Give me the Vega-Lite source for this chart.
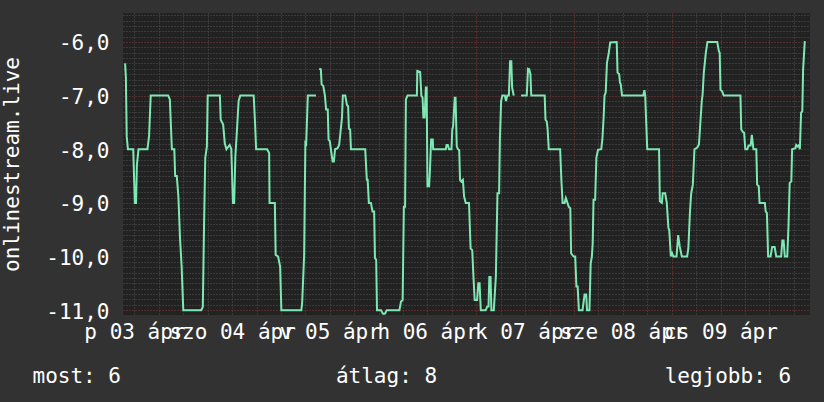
{
  "$schema": "https://vega.github.io/schema/vega-lite/v6.json",
  "width": 687,
  "height": 302,
  "autosize": "none",
  "padding": {"left": 123, "top": 13, "right": 14, "bottom": 87},
  "background": "#323232",
  "config": {
    "font": "DejaVu Sans Mono",
    "view": {"fill": "#222222", "stroke": null}
  },
  "data": {
    "values": [
      {"h": 9.7, "v": -6.4}, {"h": 9.9, "v": -6.67}, {"h": 10.1, "v": -7.76}, {"h": 10.4, "v": -8.0}, {"h": 11.7, "v": -8.0},
      {"h": 12.1, "v": -9.0}, {"h": 12.4, "v": -9.0}, {"h": 12.6, "v": -8.3}, {"h": 13.0, "v": -8.0}, {"h": 15.2, "v": -8.0},
      {"h": 15.6, "v": -7.75}, {"h": 16.0, "v": -7.0}, {"h": 20.3, "v": -7.0}, {"h": 20.7, "v": -7.07}, {"h": 21.2, "v": -8.0},
      {"h": 21.8, "v": -8.0}, {"h": 22.0, "v": -8.5}, {"h": 22.4, "v": -8.5}, {"h": 22.8, "v": -8.88}, {"h": 23.2, "v": -9.66},
      {"h": 23.6, "v": -10.19}, {"h": 24.0, "v": -11.0}, {"h": 28.4, "v": -11.0}, {"h": 28.8, "v": -10.94}, {"h": 29.1, "v": -9.44},
      {"h": 29.4, "v": -8.16}, {"h": 29.8, "v": -7.95}, {"h": 30.0, "v": -7.0}, {"h": 33.0, "v": -7.0}, {"h": 33.2, "v": -7.45},
      {"h": 33.8, "v": -7.54}, {"h": 34.2, "v": -7.89}, {"h": 34.6, "v": -8.0}, {"h": 35.4, "v": -7.92}, {"h": 35.8, "v": -8.0},
      {"h": 36.2, "v": -9.0}, {"h": 36.5, "v": -9.0}, {"h": 36.8, "v": -8.13}, {"h": 37.2, "v": -7.63}, {"h": 37.6, "v": -7.1},
      {"h": 38.0, "v": -7.0}, {"h": 41.3, "v": -7.0}, {"h": 41.6, "v": -7.45}, {"h": 41.9, "v": -8.0}, {"h": 44.6, "v": -8.0},
      {"h": 45.1, "v": -8.07}, {"h": 45.2, "v": -9.0}, {"h": 46.5, "v": -9.0}, {"h": 46.7, "v": -9.97}, {"h": 47.3, "v": -10.0},
      {"h": 47.8, "v": -10.19}, {"h": 48.1, "v": -11.0}, {"h": 53.0, "v": -11.0}, {"h": 53.2, "v": -10.88}, {"h": 53.7, "v": -9.97},
      {"h": 54.0, "v": -7.88}, {"h": 54.2, "v": -7.9}, {"h": 54.6, "v": -7.0}, {"h": 56.6, "v": -7.0}, {"h": 57.0, "v": null},
      {"h": 57.4, "v": -6.5}, {"h": 57.8, "v": -6.51}, {"h": 58.0, "v": -6.79}, {"h": 58.4, "v": -6.82}, {"h": 58.8, "v": -7.0},
      {"h": 59.1, "v": -7.26}, {"h": 59.5, "v": -7.26}, {"h": 59.7, "v": -7.82}, {"h": 60.0, "v": -7.85}, {"h": 60.4, "v": -8.07},
      {"h": 60.7, "v": -8.23}, {"h": 61.0, "v": -8.23}, {"h": 61.3, "v": -8.0}, {"h": 61.9, "v": -7.98}, {"h": 62.3, "v": -7.92},
      {"h": 62.7, "v": -7.63}, {"h": 63.0, "v": -7.41}, {"h": 63.2, "v": -7.0}, {"h": 63.8, "v": -7.0}, {"h": 64.2, "v": -7.17},
      {"h": 64.5, "v": -7.2}, {"h": 64.7, "v": -7.62}, {"h": 65.0, "v": -7.63}, {"h": 65.2, "v": -8.0}, {"h": 68.7, "v": -8.0},
      {"h": 69.1, "v": -8.57}, {"h": 69.3, "v": -8.57}, {"h": 69.6, "v": -9.0}, {"h": 70.1, "v": -9.0}, {"h": 70.5, "v": -9.16},
      {"h": 70.9, "v": -9.16}, {"h": 71.1, "v": -10.03}, {"h": 71.4, "v": -10.06}, {"h": 71.6, "v": -11.0}, {"h": 72.6, "v": -11.0},
      {"h": 73.0, "v": -11.06}, {"h": 73.3, "v": -11.07}, {"h": 73.6, "v": -11.06}, {"h": 74.0, "v": -11.0}, {"h": 77.1, "v": -11.0},
      {"h": 77.5, "v": -10.84}, {"h": 77.9, "v": -10.81}, {"h": 78.2, "v": -9.07}, {"h": 78.5, "v": -9.07}, {"h": 78.7, "v": -7.07},
      {"h": 79.1, "v": -7.0}, {"h": 81.4, "v": -7.0}, {"h": 81.5, "v": -6.54}, {"h": 82.2, "v": -6.56}, {"h": 82.5, "v": -7.0},
      {"h": 82.8, "v": -7.04}, {"h": 83.0, "v": -7.41}, {"h": 83.3, "v": -7.41}, {"h": 83.6, "v": -6.85}, {"h": 83.8, "v": -6.85},
      {"h": 84.0, "v": -8.69}, {"h": 84.4, "v": -8.69}, {"h": 84.6, "v": -8.41}, {"h": 84.9, "v": -7.82}, {"h": 85.3, "v": -7.82},
      {"h": 85.4, "v": -8.0}, {"h": 88.5, "v": -8.0}, {"h": 88.7, "v": -7.92}, {"h": 89.0, "v": -7.92}, {"h": 89.3, "v": -8.0},
      {"h": 89.9, "v": -8.0}, {"h": 90.1, "v": -7.63}, {"h": 90.3, "v": -7.57}, {"h": 90.7, "v": -7.04}, {"h": 90.9, "v": -7.04},
      {"h": 91.2, "v": -7.95}, {"h": 91.5, "v": -8.0}, {"h": 91.8, "v": -8.02}, {"h": 92.0, "v": -8.57}, {"h": 92.3, "v": -8.6},
      {"h": 92.7, "v": -8.57}, {"h": 93.0, "v": -8.88}, {"h": 93.4, "v": -9.0}, {"h": 94.2, "v": -9.0}, {"h": 94.6, "v": -9.85},
      {"h": 95.0, "v": -9.88}, {"h": 95.3, "v": -10.38}, {"h": 95.6, "v": -10.81}, {"h": 96.2, "v": -10.81}, {"h": 96.5, "v": -10.5},
      {"h": 96.8, "v": -10.5}, {"h": 97.1, "v": -11.0}, {"h": 98.3, "v": -11.0}, {"h": 98.7, "v": -10.93}, {"h": 99.0, "v": -10.93},
      {"h": 99.2, "v": -10.38}, {"h": 99.5, "v": -10.38}, {"h": 99.7, "v": -11.0}, {"h": 100.3, "v": -11.0}, {"h": 100.8, "v": -10.38},
      {"h": 101.2, "v": -8.82}, {"h": 101.6, "v": -8.82}, {"h": 101.8, "v": -7.79}, {"h": 102.1, "v": -7.1}, {"h": 102.4, "v": -7.0},
      {"h": 103.0, "v": -7.0}, {"h": 103.3, "v": -7.1}, {"h": 103.6, "v": -7.0}, {"h": 104.0, "v": -7.0}, {"h": 104.3, "v": -6.36},
      {"h": 104.6, "v": -6.36}, {"h": 104.8, "v": -6.85}, {"h": 105.2, "v": -7.0}, {"h": 105.6, "v": null}, {"h": 107.0, "v": -7.0},
      {"h": 108.4, "v": -7.0}, {"h": 108.7, "v": -6.5}, {"h": 109.0, "v": -6.51}, {"h": 109.3, "v": -6.6}, {"h": 109.5, "v": -7.0},
      {"h": 112.8, "v": -7.0}, {"h": 113.0, "v": -7.45}, {"h": 113.3, "v": -7.48}, {"h": 113.5, "v": -7.6}, {"h": 113.8, "v": -8.0},
      {"h": 116.6, "v": -8.0}, {"h": 116.9, "v": -8.57}, {"h": 117.2, "v": -9.0}, {"h": 117.7, "v": -9.0}, {"h": 118.0, "v": -8.91},
      {"h": 118.4, "v": -9.0}, {"h": 118.7, "v": -9.07}, {"h": 119.1, "v": -9.1}, {"h": 119.3, "v": -9.94}, {"h": 119.9, "v": -10.0},
      {"h": 120.3, "v": -10.0}, {"h": 120.6, "v": -10.56}, {"h": 120.9, "v": -10.56}, {"h": 121.2, "v": -11.0}, {"h": 122.1, "v": -11.0},
      {"h": 122.6, "v": -10.71}, {"h": 123.0, "v": -10.71}, {"h": 123.2, "v": -11.0}, {"h": 123.8, "v": -11.0}, {"h": 124.1, "v": -10.13},
      {"h": 124.4, "v": -10.0}, {"h": 124.6, "v": -9.75}, {"h": 124.8, "v": -8.94}, {"h": 125.2, "v": -8.94}, {"h": 125.5, "v": -8.16},
      {"h": 125.9, "v": -8.01}, {"h": 126.7, "v": -8.0}, {"h": 127.0, "v": -7.79}, {"h": 127.3, "v": -7.38}, {"h": 127.5, "v": -7.0},
      {"h": 127.8, "v": -6.94}, {"h": 128.1, "v": -6.39}, {"h": 128.5, "v": -6.23}, {"h": 128.9, "v": -6.01}, {"h": 130.5, "v": -6.0},
      {"h": 130.7, "v": -6.57}, {"h": 131.1, "v": -6.6}, {"h": 131.3, "v": -6.76}, {"h": 131.5, "v": -6.79}, {"h": 131.8, "v": -7.0},
      {"h": 137.0, "v": -7.0}, {"h": 137.3, "v": -6.9}, {"h": 137.5, "v": -7.0}, {"h": 137.7, "v": -7.41}, {"h": 138.0, "v": -8.0},
      {"h": 140.9, "v": -8.0}, {"h": 141.1, "v": -8.97}, {"h": 141.6, "v": -9.0}, {"h": 141.8, "v": -8.82}, {"h": 142.4, "v": -8.82},
      {"h": 142.8, "v": -9.0}, {"h": 143.2, "v": -9.47}, {"h": 143.4, "v": -9.5}, {"h": 143.8, "v": -10.0}, {"h": 144.0, "v": -9.91},
      {"h": 144.4, "v": -10.0}, {"h": 145.2, "v": -10.0}, {"h": 145.6, "v": -9.6}, {"h": 146.0, "v": -9.82}, {"h": 146.5, "v": -10.0},
      {"h": 147.8, "v": -10.0}, {"h": 148.1, "v": -9.85}, {"h": 148.5, "v": -9.16}, {"h": 148.8, "v": -8.82}, {"h": 149.2, "v": -8.66},
      {"h": 149.6, "v": -8.0}, {"h": 150.3, "v": -7.97}, {"h": 150.7, "v": -7.91}, {"h": 151.0, "v": -7.57}, {"h": 151.4, "v": -7.1},
      {"h": 151.6, "v": -6.98}, {"h": 151.9, "v": -6.57}, {"h": 152.4, "v": -6.2}, {"h": 152.8, "v": -6.0}, {"h": 155.2, "v": -6.0},
      {"h": 155.6, "v": -6.17}, {"h": 155.8, "v": -6.2}, {"h": 156.0, "v": -6.89}, {"h": 156.4, "v": -6.92}, {"h": 156.8, "v": -7.0},
      {"h": 160.9, "v": -7.0}, {"h": 161.1, "v": -7.63}, {"h": 161.5, "v": -7.68}, {"h": 161.8, "v": -7.69}, {"h": 162.1, "v": -8.0},
      {"h": 162.6, "v": -8.0}, {"h": 162.9, "v": -7.93}, {"h": 163.4, "v": -7.93}, {"h": 163.7, "v": -7.73}, {"h": 164.1, "v": -8.0},
      {"h": 164.8, "v": -8.0}, {"h": 165.0, "v": -8.66}, {"h": 165.4, "v": -8.69}, {"h": 165.6, "v": -9.0}, {"h": 166.9, "v": -9.0},
      {"h": 167.1, "v": -9.16}, {"h": 167.4, "v": -9.19}, {"h": 167.7, "v": -10.0}, {"h": 168.3, "v": -10.0}, {"h": 168.7, "v": -9.82},
      {"h": 169.3, "v": -9.82}, {"h": 169.7, "v": -10.0}, {"h": 170.9, "v": -10.0}, {"h": 171.2, "v": -9.7}, {"h": 171.5, "v": -9.7},
      {"h": 171.8, "v": -10.0}, {"h": 172.4, "v": -10.0}, {"h": 172.7, "v": -9.44}, {"h": 173.0, "v": -8.63}, {"h": 173.4, "v": -8.6},
      {"h": 173.6, "v": -8.0}, {"h": 174.4, "v": -7.98}, {"h": 174.6, "v": -7.92}, {"h": 175.0, "v": -7.95}, {"h": 175.3, "v": -7.92},
      {"h": 175.5, "v": -8.0}, {"h": 175.8, "v": -7.32}, {"h": 176.1, "v": -7.29}, {"h": 176.3, "v": -6.51}, {"h": 176.7, "v": -6.0},
      {"h": 176.9, "v": -6.0}
    ]
  },
  "mark": {"type": "line", "color": "#7de8b3", "strokeWidth": 2, "interpolate": "linear", "invalid": "break-paths-filter-domains"},
  "encoding": {
    "x": {
      "field": "h",
      "type": "quantitative",
      "scale": {"domain": [9.19, 177.99], "nice": false, "zero": false},
      "axis": {
        "values": [12, 18, 24, 30, 36, 42, 48, 54, 60, 66, 72, 78, 84, 90, 96, 102, 108, 114, 120, 126, 132, 138, 144, 150, 156, 162, 168, 174],
        "labelExpr": "datum.value % 24 === 12 ? ['p 03 ápr','szo 04 ápr','v 05 ápr','h 06 ápr','k 07 ápr','sze 08 ápr','cs 09 ápr'][floor(datum.value / 24)] : ''",
        "labelFont": "DejaVu Sans Mono",
        "labelFontSize": 21,
        "labelColor": "#ffffff",
        "labelAlign": "center",
        "labelBaseline": "alphabetic",
        "labelPadding": 23,
        "labelOverlap": false,
        "labelBound": false,
        "labelFlush": false,
        "ticks": false,
        "tickSize": 0,
        "domain": false,
        "grid": true,
        "gridColor": {"condition": {"test": "datum.value % 24 === 0", "value": "#8a3838"}, "value": "#525252"},
        "gridDash": [1, 2],
        "gridWidth": 1,
        "gridOpacity": 1,
        "title": "most: 6\u00a0\u00a0\u00a0\u00a0\u00a0\u00a0\u00a0\u00a0\u00a0\u00a0\u00a0\u00a0\u00a0\u00a0\u00a0\u00a0\u00a0átlag: 8\u00a0\u00a0\u00a0\u00a0\u00a0\u00a0\u00a0\u00a0\u00a0\u00a0\u00a0\u00a0\u00a0\u00a0\u00a0\u00a0\u00a0\u00a0legjobb: 6",
        "titleFont": "DejaVu Sans Mono",
        "titleFontSize": 21,
        "titleFontWeight": "normal",
        "titleColor": "#ffffff",
        "titleAlign": "left",
        "titleAnchor": "start",
        "titleBaseline": "alphabetic",
        "titleX": -91,
        "titleY": 67
      }
    },
    "y": {
      "field": "v",
      "type": "quantitative",
      "scale": {"domain": [-11.09, -5.46], "nice": false, "zero": false},
      "axis": {
        "values": [-11, -10.9, -10.8, -10.7, -10.6, -10.5, -10.4, -10.3, -10.2, -10.1, -10, -9.9, -9.8, -9.7, -9.6, -9.5, -9.4, -9.3, -9.2, -9.1, -9, -8.9, -8.8, -8.7, -8.6, -8.5, -8.4, -8.3, -8.2, -8.1, -8, -7.9, -7.8, -7.7, -7.6, -7.5, -7.4, -7.3, -7.2, -7.1, -7, -6.9, -6.8, -6.7, -6.6, -6.5, -6.4, -6.3, -6.2, -6.1, -6, -5.9, -5.8, -5.7, -5.6, -5.5],
        "labelExpr": "datum.value === round(datum.value) ? '-' + replace(format(abs(datum.value), '.1f'), '.', ',') : ''",
        "labelFont": "DejaVu Sans Mono",
        "labelFontSize": 21,
        "labelColor": "#ffffff",
        "labelAlign": "right",
        "labelBaseline": "alphabetic",
        "labelOffset": 8,
        "labelPadding": 14,
        "labelOverlap": false,
        "labelBound": false,
        "labelFlush": false,
        "ticks": false,
        "tickSize": 0,
        "domain": false,
        "grid": true,
        "gridColor": {"condition": {"test": "datum.value === round(datum.value)", "value": "#8a3838"}, "value": "#525252"},
        "gridDash": [1, 2],
        "gridWidth": 1,
        "gridOpacity": 1,
        "title": "onlinestream.live",
        "titleFont": "DejaVu Sans Mono",
        "titleFontSize": 21,
        "titleFontWeight": "normal",
        "titleColor": "#ffffff",
        "titleAngle": -90,
        "titleAlign": "center",
        "titleBaseline": "alphabetic",
        "titleX": -105,
        "titleY": 151
      }
    }
  }
}
